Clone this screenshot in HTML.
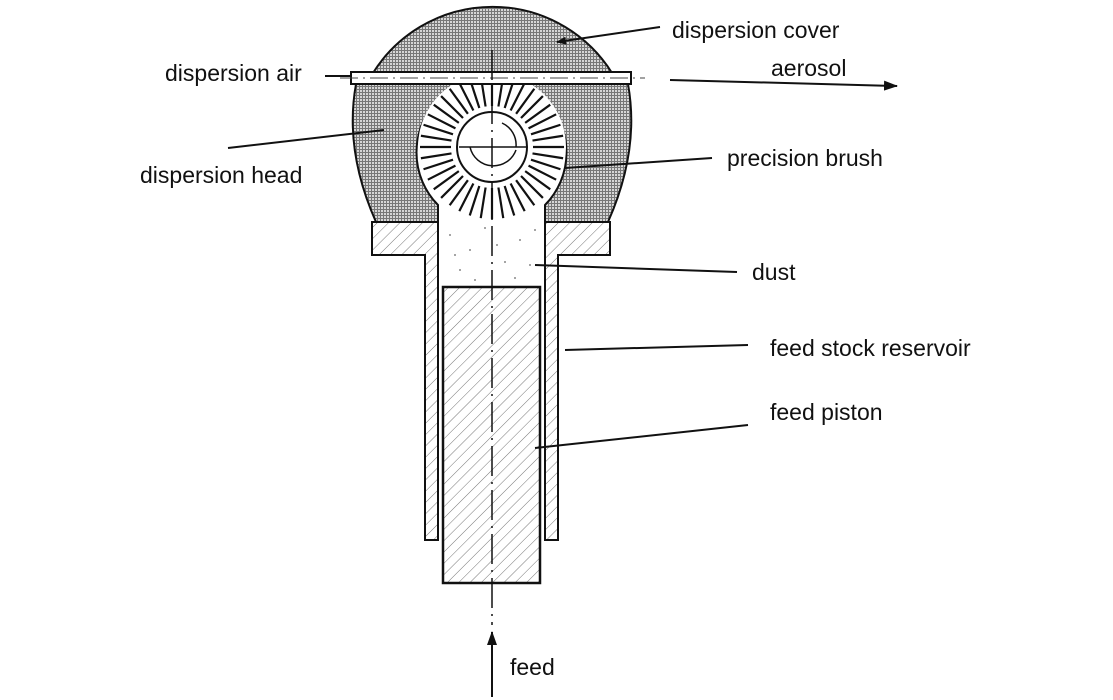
<!DOCTYPE html>
<html><head><style>
body{margin:0;background:#fff}
svg{display:block}
text{font-family:"Liberation Sans",sans-serif;font-size:23px;fill:#111}
</style></head><body>
<svg width="1113" height="700" viewBox="0 0 1113 700" xmlns="http://www.w3.org/2000/svg">
<defs>
<pattern id="g" width="3" height="3" patternUnits="userSpaceOnUse">
<rect width="3" height="3" fill="#777"/><rect width="2" height="2" fill="#d6d6d6"/>
</pattern>
<pattern id="h" width="8" height="8" patternUnits="userSpaceOnUse" patternTransform="rotate(45)">
<rect width="8" height="8" fill="#fff"/><line x1="0" y1="0" x2="0" y2="8" stroke="#777" stroke-width="1"/>
</pattern>
<marker id="a" markerWidth="10" markerHeight="8" refX="9" refY="4" orient="auto" markerUnits="userSpaceOnUse"><path d="M0,0 L10,4 L0,8z" fill="#111"/></marker>
<marker id="b" markerWidth="14" markerHeight="10" refX="13" refY="5" orient="auto" markerUnits="userSpaceOnUse"><path d="M0,0 L14,5 L0,10z" fill="#111"/></marker>
<line id="bl" x1="533" y1="147" x2="564" y2="147" stroke="#111" stroke-width="2.2"/>
</defs>
<path d="M373,73 A141,141 0 0 1 612,73 Z" fill="url(#g)" stroke="#111" stroke-width="2"/>
<path d="M356,84 L628,84 Q640,150 608,222 L545,222 L545,205 A75,75 0 1 0 438,205 L438,222 L376,222 Q344,150 356,84 Z" fill="url(#g)" stroke="#111" stroke-width="2"/>
<path d="M372,222 L438,222 L438,540 L425,540 L425,255 L372,255 Z" fill="url(#h)" stroke="#111" stroke-width="2"/>
<path d="M610,222 L545,222 L545,540 L558,540 L558,255 L610,255 Z" fill="url(#h)" stroke="#111" stroke-width="2"/>
<rect x="439" y="205" width="105" height="82" fill="#fff"/>
<g fill="#888">
<circle cx="450" cy="235" r="1"/><circle cx="470" cy="250" r="1"/><circle cx="520" cy="240" r="1"/><circle cx="530" cy="265" r="1"/><circle cx="460" cy="270" r="1"/><circle cx="505" cy="262" r="1"/><circle cx="485" cy="228" r="1"/><circle cx="535" cy="230" r="1"/><circle cx="455" cy="255" r="1"/><circle cx="515" cy="278" r="1"/><circle cx="475" cy="280" r="1"/><circle cx="497" cy="245" r="1"/>
</g>
<circle cx="492" cy="147" r="74" fill="#fff"/>
<g>
<use href="#bl" transform="rotate(0 492 147)"/><use href="#bl" transform="rotate(9 492 147)"/><use href="#bl" transform="rotate(18 492 147)"/><use href="#bl" transform="rotate(27 492 147)"/><use href="#bl" transform="rotate(36 492 147)"/><use href="#bl" transform="rotate(45 492 147)"/><use href="#bl" transform="rotate(54 492 147)"/><use href="#bl" transform="rotate(63 492 147)"/><use href="#bl" transform="rotate(72 492 147)"/><use href="#bl" transform="rotate(81 492 147)"/>
<use href="#bl" transform="rotate(90 492 147)"/><use href="#bl" transform="rotate(99 492 147)"/><use href="#bl" transform="rotate(108 492 147)"/><use href="#bl" transform="rotate(117 492 147)"/><use href="#bl" transform="rotate(126 492 147)"/><use href="#bl" transform="rotate(135 492 147)"/><use href="#bl" transform="rotate(144 492 147)"/><use href="#bl" transform="rotate(153 492 147)"/><use href="#bl" transform="rotate(162 492 147)"/><use href="#bl" transform="rotate(171 492 147)"/>
<use href="#bl" transform="rotate(180 492 147)"/><use href="#bl" transform="rotate(189 492 147)"/><use href="#bl" transform="rotate(198 492 147)"/><use href="#bl" transform="rotate(207 492 147)"/><use href="#bl" transform="rotate(216 492 147)"/><use href="#bl" transform="rotate(225 492 147)"/><use href="#bl" transform="rotate(234 492 147)"/><use href="#bl" transform="rotate(243 492 147)"/><use href="#bl" transform="rotate(252 492 147)"/><use href="#bl" transform="rotate(261 492 147)"/>
<use href="#bl" transform="rotate(270 492 147)"/><use href="#bl" transform="rotate(279 492 147)"/><use href="#bl" transform="rotate(288 492 147)"/><use href="#bl" transform="rotate(297 492 147)"/><use href="#bl" transform="rotate(306 492 147)"/><use href="#bl" transform="rotate(315 492 147)"/><use href="#bl" transform="rotate(324 492 147)"/><use href="#bl" transform="rotate(333 492 147)"/><use href="#bl" transform="rotate(342 492 147)"/><use href="#bl" transform="rotate(351 492 147)"/>
</g>
<circle cx="492" cy="147" r="35" fill="#fff" stroke="#111" stroke-width="2"/>
<path d="M470,147 A24,24 0 0 0 516,150" fill="none" stroke="#111" stroke-width="1.5"/>
<path d="M502,123 A24,24 0 0 1 516,147" fill="none" stroke="#111" stroke-width="1.5"/>
<line x1="459" y1="147" x2="526" y2="147" stroke="#111" stroke-width="1.5"/>
<rect x="351" y="72" width="280" height="12" fill="#fff" stroke="#111" stroke-width="2"/>
<line x1="340" y1="78" x2="645" y2="78" stroke="#444" stroke-width="1" stroke-dasharray="18,5,2,5"/>
<rect x="443" y="287" width="97" height="296" fill="url(#h)" stroke="#111" stroke-width="2.5"/>
<line x1="492" y1="50" x2="492" y2="625" stroke="#111" stroke-width="1.5" stroke-dasharray="30,6,2,6"/>
<g stroke="#111" stroke-width="2" fill="none">
<line x1="660" y1="27" x2="557" y2="42" marker-end="url(#a)"/>
<line x1="325" y1="76" x2="351" y2="76"/>
<line x1="670" y1="80" x2="897" y2="86" marker-end="url(#b)"/>
<line x1="228" y1="148" x2="384" y2="130"/>
<line x1="565" y1="168" x2="712" y2="158"/>
<line x1="535" y1="265" x2="737" y2="272"/>
<line x1="565" y1="350" x2="748" y2="345"/>
<line x1="535" y1="448" x2="748" y2="425"/>
<line x1="492" y1="697" x2="492" y2="632" marker-end="url(#b)"/>
</g>
<text x="672" y="38">dispersion cover</text>
<text x="771" y="76">aerosol</text>
<text x="165" y="81">dispersion air</text>
<text x="140" y="183">dispersion head</text>
<text x="727" y="166">precision brush</text>
<text x="752" y="280">dust</text>
<text x="770" y="356">feed stock reservoir</text>
<text x="770" y="420">feed piston</text>
<text x="510" y="675">feed</text>
</svg>
</body></html>
